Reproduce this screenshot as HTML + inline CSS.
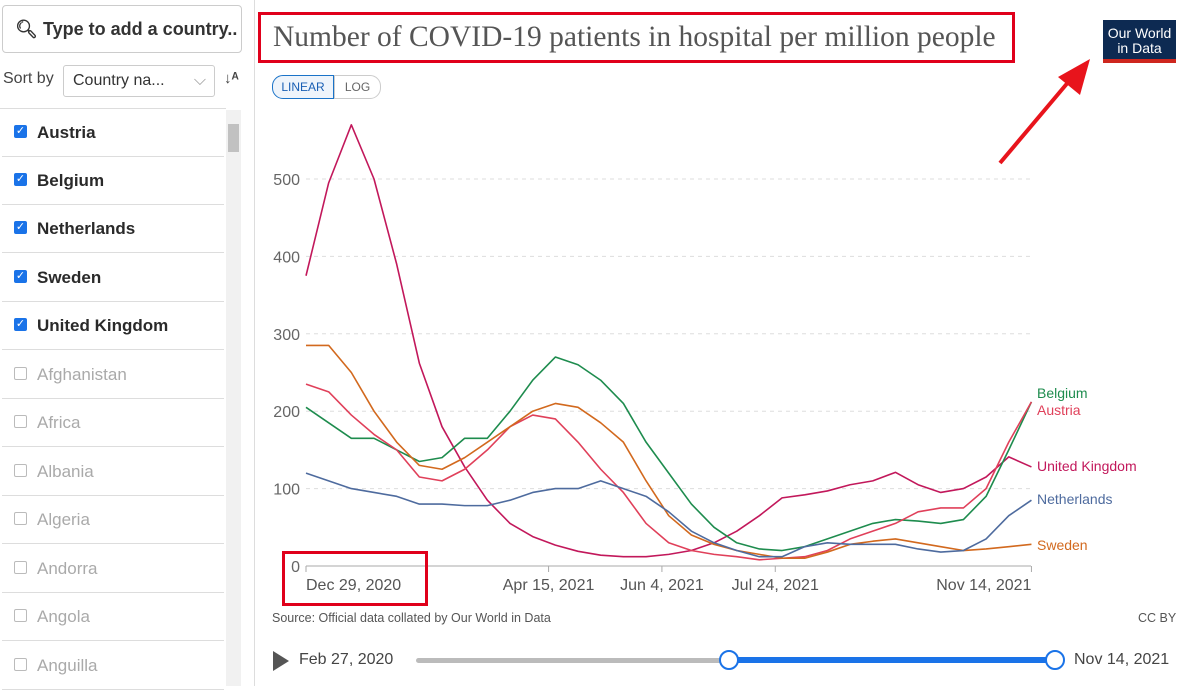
<!DOCTYPE html>
<html><head><meta charset="utf-8"><style>
body{margin:0;width:1200px;height:686px;overflow:hidden;background:#fff;font-family:"Liberation Sans",sans-serif;position:relative}
.abs{position:absolute}
.item{position:absolute;left:2px;width:222px;height:47px;border-bottom:1px solid #ddd;font-size:17px;line-height:47px}
.item .cb{position:absolute;left:12px;top:16px;width:13px;height:13px;border-radius:2px}
.item span{position:absolute;left:35px}
.on .cb{background:#1a73e8;color:#fff;font-size:11px;line-height:13px;text-align:center}
.on span{font-weight:bold;color:#2a2a2a}
.off .cb{border:1px solid #bbb;width:11px;height:11px}
.off span{color:#aaa}
</style></head><body>
<div class="abs" style="left:0;top:0;width:244px;height:686px;background:#fff"></div>
<div class="abs" style="left:2px;top:5px;width:238px;height:46px;border:1px solid #ccc;border-radius:4px;font-size:18px;line-height:46px;color:#333;font-weight:bold"><span style="position:absolute;left:12px;top:0;color:#333">&#x1F50D;&#xFE0E;</span><span style="position:absolute;left:40px">Type to add a country..</span></div>
<div class="abs" style="left:3px;top:70px;font-size:16px;color:#444">Sort by</div>
<div class="abs" style="left:63px;top:65px;width:150px;height:30px;border:1px solid #ccc;border-radius:3px;font-size:16px;line-height:30px;color:#333"><span style="margin-left:9px">Country na...</span><span style="position:absolute;right:8px;color:#999">&#x2335;</span></div>
<div class="abs" style="left:224px;top:70px;font-size:15px;color:#444;font-weight:bold">↓ᴬ</div>
<div class="abs" style="left:0;top:108px;width:226px;height:578px;border-top:1px solid #ddd">
<div class="item on" style="top:0"><div class="cb">✓</div><span>Austria</span></div>
<div class="item on" style="top:48px"><div class="cb">✓</div><span>Belgium</span></div>
<div class="item on" style="top:96px"><div class="cb">✓</div><span>Netherlands</span></div>
<div class="item on" style="top:145px"><div class="cb">✓</div><span>Sweden</span></div>
<div class="item on" style="top:193px"><div class="cb">✓</div><span>United Kingdom</span></div>
<div class="item off" style="top:242px"><div class="cb"></div><span>Afghanistan</span></div>
<div class="item off" style="top:290px"><div class="cb"></div><span>Africa</span></div>
<div class="item off" style="top:339px"><div class="cb"></div><span>Albania</span></div>
<div class="item off" style="top:387px"><div class="cb"></div><span>Algeria</span></div>
<div class="item off" style="top:436px"><div class="cb"></div><span>Andorra</span></div>
<div class="item off" style="top:484px"><div class="cb"></div><span>Angola</span></div>
<div class="item off" style="top:533px"><div class="cb"></div><span>Anguilla</span></div>
</div>
<div class="abs" style="left:226px;top:110px;width:15px;height:576px;background:#f1f1f1"><div style="position:absolute;left:2px;top:14px;width:11px;height:28px;background:#c1c1c1"></div></div>
<div class="abs" style="left:254px;top:0;width:946px;height:686px;border-left:1px solid #ddd"></div>
<div class="abs" style="left:258px;top:12px;width:751px;height:45px;border:3px solid #e0001b;font-family:'Liberation Serif',serif;font-size:29.5px;color:#555;line-height:45px;white-space:nowrap"><span style="margin-left:12px">Number of COVID-19 patients in hospital per million people</span></div>
<div class="abs" style="left:1103px;top:20px;width:73px;height:43px;background:#0d2a52;color:#fff;font-size:14px;text-align:center;line-height:15px;border-bottom:4px solid #ce261e;box-sizing:border-box;padding-top:6px">Our World<br>in Data</div>
<svg class="abs" style="left:990px;top:55px" width="110" height="115"><line x1="10" y1="108" x2="80" y2="25" stroke="#e8141c" stroke-width="4"/><polygon points="100,4 68,22 90,40" fill="#e8141c"/></svg>
<div class="abs" style="left:272px;top:75px;width:60px;height:22px;border:1px solid #1a73c8;border-radius:11px 0 0 11px;color:#1a5fb4;font-size:12px;line-height:22px;text-align:center;background:#eef4fb">LINEAR</div>
<div class="abs" style="left:334px;top:75px;width:45px;height:22px;border:1px solid #ccc;border-radius:0 11px 11px 0;color:#666;font-size:12px;line-height:22px;text-align:center">LOG</div>
<svg class="abs" id="chart" style="left:0;top:0" width="1200" height="686"></svg>
<div class="abs" style="left:282px;top:551px;width:140px;height:49px;border:3px solid #e0001b"></div>
<div class="abs" style="left:272px;top:611px;font-size:12.5px;color:#555">Source: Official data collated by Our World in Data</div>
<div class="abs" style="left:1138px;top:611px;font-size:12.5px;color:#555">CC BY</div>
<div class="abs" style="left:273px;top:651px;width:0;height:0;border-left:16px solid #555;border-top:10px solid transparent;border-bottom:10px solid transparent"></div>
<div class="abs" style="left:299px;top:651px;font-size:16px;color:#444">Feb 27, 2020</div>
<div class="abs" style="left:416px;top:658px;width:640px;height:5px;background:#bbb;border-radius:3px"></div>
<div class="abs" style="left:728px;top:657px;width:327px;height:6px;background:#1a73e8"></div>
<div class="abs" style="left:719px;top:650px;width:16px;height:16px;border:2px solid #1a73e8;border-radius:50%;background:#fff"></div>
<div class="abs" style="left:1045px;top:650px;width:16px;height:16px;border:2px solid #1a73e8;border-radius:50%;background:#fff"></div>
<div class="abs" style="left:1074px;top:651px;font-size:16px;color:#444">Nov 14, 2021</div>
<script>
const days=[0,10,20,30,40,50,60,70,80,90,100,110,120,130,140,150,160,170,180,190,200,210,220,230,240,250,260,270,280,290,300,310,320];
const ukValues=[375,495,570,500,390,262,180,128,85,55,38,27,19,14,12,12,15,20,30,45,65,88,92,97,105,110,121,105,95,100,115,141,128];
const belgiumValues=[205,185,165,165,150,135,140,165,165,200,240,270,260,240,210,160,120,80,50,30,22,20,25,35,45,55,60,58,55,60,90,150,212];
const austriaValues=[235,225,195,170,150,115,110,125,150,180,195,190,160,125,95,55,30,20,15,12,8,10,12,20,35,45,55,70,75,75,100,160,212];
const swedenValues=[285,285,250,200,160,130,125,140,160,180,200,210,205,185,160,110,65,40,28,20,15,10,10,18,28,32,35,30,25,20,22,25,28];
const netherlandsValues=[120,110,100,95,90,80,80,78,78,85,95,100,100,110,100,90,70,45,30,20,12,12,25,30,28,28,28,22,18,20,35,65,85];
const yTicks=[0,100,200,300,400,500];
const xTickDays=[0,107,157,207,320];
const xTickLabels=["Dec 29, 2020","Apr 15, 2021","Jun 4, 2021","Jul 24, 2021","Nov 14, 2021"];
const series=[["united-kingdom","United Kingdom","#c2185b",ukValues],["belgium","Belgium","#1e8c4e",belgiumValues],["austria","Austria","#e0405a",austriaValues],["sweden","Sweden","#d2691e",swedenValues],["netherlands","Netherlands","#4e6b9e",netherlandsValues]];
const X=d=>306+d*2.267, Y=v=>566-v*0.774;
const svg=document.getElementById('chart');const NS='http://www.w3.org/2000/svg';
function mk(t,a){const e=document.createElementNS(NS,t);for(const k in a)e.setAttribute(k,a[k]);svg.appendChild(e);return e;}
yTicks.forEach(v=>{
 if(v>0){const l=mk('line',{x1:306,x2:1031,y1:Y(v),y2:Y(v),stroke:'#ddd','stroke-dasharray':'4,4'});
 
 }
 const t=mk('text',{x:300,y:Y(v)+6,'text-anchor':'end','font-size':16,fill:'#666','font-family':'Liberation Sans,sans-serif'});t.textContent=v;
 
 
});
const ax=mk('line',{x1:306,x2:1031,y1:566,y2:566,stroke:'#aaa'});


xTickDays.forEach((d,i)=>{
 const tk=mk('line',{x1:X(d),x2:X(d),y1:566,y2:572,stroke:'#aaa'});
 
 
 const t=mk('text',{x:X(d),y:590,'text-anchor':i==0?'start':(i==4?'end':'middle'),'font-size':16,fill:'#555','font-family':'Liberation Sans,sans-serif'});t.textContent=xTickLabels[i];
 
 
});
const labelY={"belgium":393,"austria":410,"united-kingdom":466,"netherlands":499,"sweden":545};
series.forEach(s=>{
 const p=mk('polyline',{points:days.map((d,i)=>X(d)+','+Y(s[3][i])).join(' '),fill:'none',stroke:s[2],'stroke-width':1.6,'stroke-linejoin':'round'});
 
 
 const t=mk('text',{x:1037,y:labelY[s[0]]+5,'font-size':14,fill:s[2],'font-family':'Liberation Sans,sans-serif'});t.textContent=s[1];
 
 
});
</script>
</body></html>
